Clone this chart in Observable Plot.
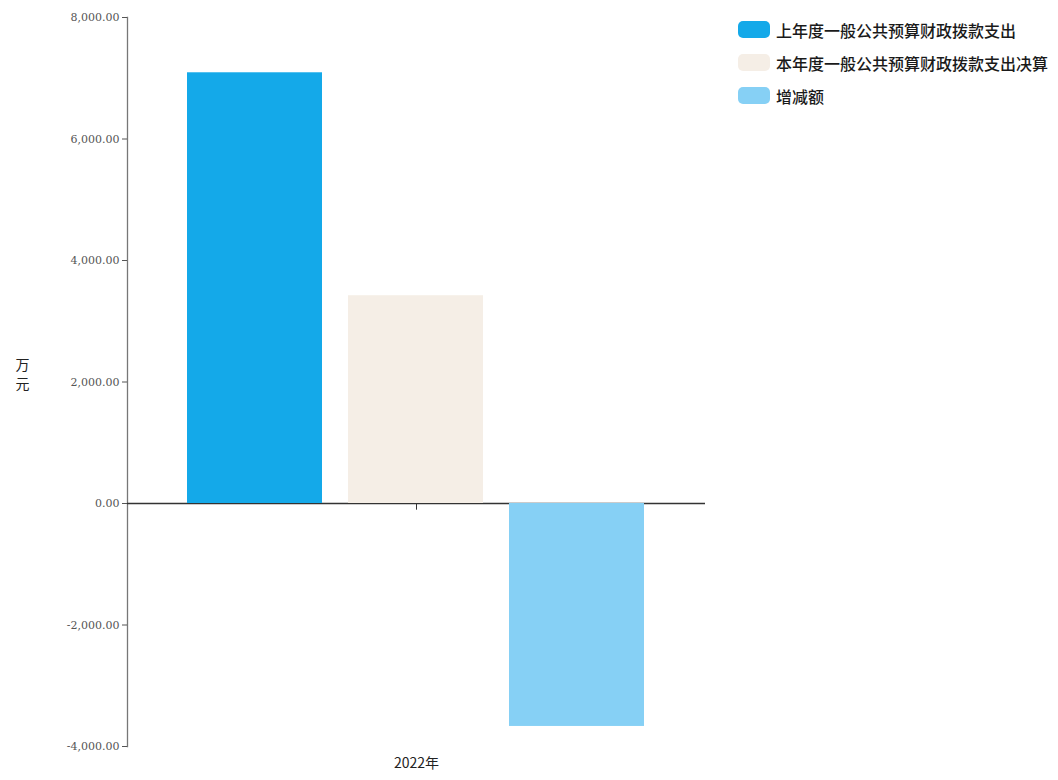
<!DOCTYPE html>
<html>
<head>
<meta charset="utf-8">
<script src="https://cdn.jsdelivr.net/npm/d3@7"></script>
<script src="https://cdn.jsdelivr.net/npm/@observablehq/plot@0.6"></script>
<style>
  body { margin: 0; background: #fff; }
  #wrap { position: relative; width: 1058px; height: 780px; }
  #legend { position: absolute; left: 738px; top: 13px; font-family: "Noto Sans CJK SC", sans-serif; font-size: 16px; font-weight: 500; color: #1a1a1a; }
  .item { display: flex; align-items: center; height: 33px; }
  .sw { width: 32px; height: 17px; border-radius: 5px; margin-right: 6px; }
</style>
</head>
<body>
<div id="wrap"><div id="legend"></div></div>
<script>
const series = ["上年度一般公共预算财政拨款支出", "本年度一般公共预算财政拨款支出决算", "增减额"];
const values = [7090, 3420, -3670];
const colors = ["#14a9e9", "#f5eee6", "#86d0f5"];
const year = "2022年";
const yTicks = [-4000, -2000, 0, 2000, 4000, 6000, 8000];
const unitChars = ["万", "元"];

const data = series.map((s, i) => ({series: s, value: values[i]}));
const fmt = d3.formatLocale({decimal: ".", thousands: ",", grouping: [3], currency: ["", ""], minus: "-"}).format(",.2f");

const chart = Plot.plot({
  width: 1058,
  height: 780,
  marginLeft: 127,
  marginRight: 353,
  marginTop: 17,
  marginBottom: 34,
  style: {fontFamily: "DejaVu Serif, serif", fontSize: "11px", color: "#444"},
  x: {domain: series, paddingInner: 0.16, paddingOuter: 0.364, axis: null},
  y: {domain: [-4000, 8000], axis: null},
  color: {domain: series, range: colors},
  marks: [
    Plot.frame({anchor: "left", stroke: "#777", strokeWidth: 1.3}),
    Plot.axisY({ticks: yTicks, tickFormat: fmt, tickSize: 5, tickPadding: 3, label: null, stroke: "#555", fill: "#555"}),
    Plot.ruleY([0], {stroke: "#333", strokeWidth: 1.5}),
    Plot.barY(data, {x: "series", y: "value", fill: "series"}),
    Plot.ruleX([0], {x: null, y1: 0, y2: -110, stroke: "#333"}),
    Plot.text([year], {text: d => d, frameAnchor: "bottom", dy: 21, fontSize: 14, fontFamily: "Noto Sans CJK SC", fill: "#222"}),
    Plot.text([unitChars[0]], {text: d => d, frameAnchor: "left", dx: -112, dy: -16, fontSize: 14, fontFamily: "Noto Sans CJK SC", fill: "#222"}),
    Plot.text([unitChars[1]], {text: d => d, frameAnchor: "left", dx: -112, dy: 3, fontSize: 14, fontFamily: "Noto Sans CJK SC", fill: "#222"})
  ]
});
document.getElementById("wrap").prepend(chart);
chart.style.position = "absolute";
chart.style.left = "0";
chart.style.top = "0";

const legend = d3.select("#legend");
series.forEach((s, i) => {
  const it = legend.append("div").attr("class", "item");
  it.append("div").attr("class", "sw").style("background", colors[i]);
  it.append("span").text(s);
});
</script>
</body>
</html>
